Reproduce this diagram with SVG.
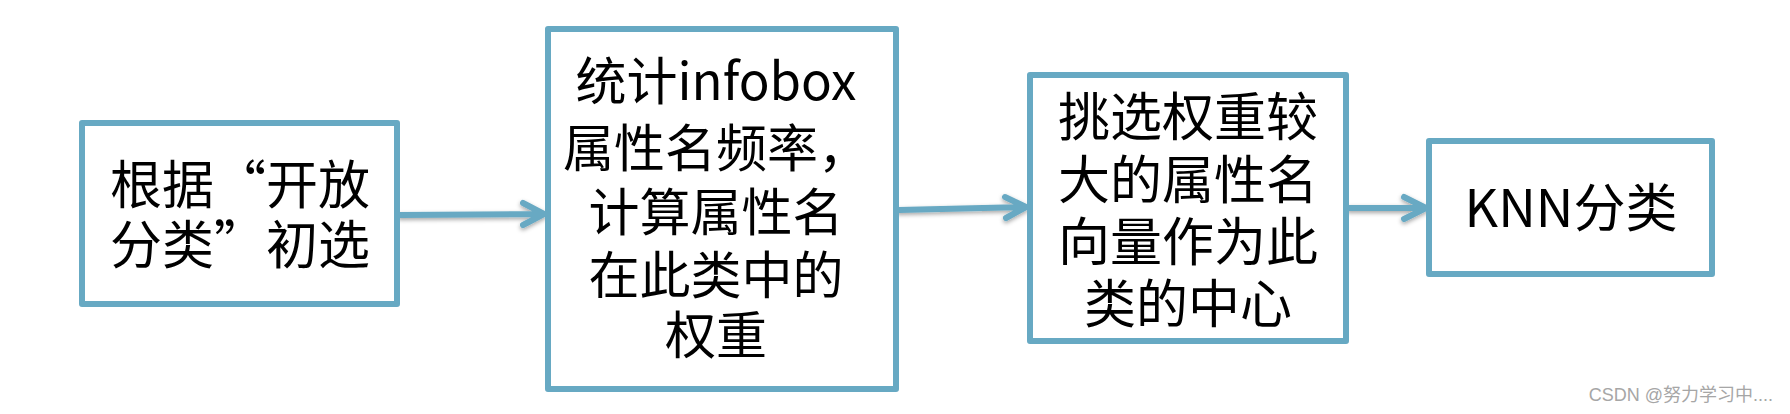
<svg xmlns="http://www.w3.org/2000/svg" width="1790" height="414" viewBox="0 0 1790 414">
<defs>
<style>
.box{fill:#ffffff;stroke:#67A9C3;stroke-width:6;stroke-linejoin:round}
.conn{fill:none;stroke:#67A9C3;stroke-width:6;stroke-linecap:round;stroke-linejoin:round}
.t{font-family:"Noto Sans CJK SC","Noto Sans",sans-serif;fill:#000000;text-anchor:middle}
.wm{font-family:"Liberation Sans","Noto Sans CJK SC",sans-serif;fill:#a6a6a6;font-size:18px;text-anchor:end}
</style>
<filter id="sh" x="-10%" y="-50%" width="120%" height="200%">
<feDropShadow dx="0" dy="2" stdDeviation="2" flood-color="#000000" flood-opacity="0.35"/>
</filter>
</defs>
<rect width="1790" height="414" fill="#ffffff"/>
<g id="connectors" filter="url(#sh)">
<path class="conn" d="M400,215 L543,214 M523,203 L544,214 L523,225"/>
<path class="conn" d="M899,210 L1025,207 M1005,197 L1026,207 L1006,218"/>
<path class="conn" d="M1349,208 L1425,208 M1404,197 L1426,208 L1404,219"/>
</g>
<g id="node1">
<rect class="box" x="82" y="123" width="315" height="181"/>
<text class="t" font-size="52" x="240" y="204">根据“开放</text>
<text class="t" font-size="52" x="240" y="264">分类”初选</text>
</g>
<g id="node2">
<rect class="box" x="548" y="29" width="348" height="360"/>
<text class="t" font-size="51" x="716" y="100">统计infobox</text>
<text class="t" font-size="51" x="716" y="167">属性名频率，</text>
<text class="t" font-size="51" x="716" y="231">计算属性名</text>
<text class="t" font-size="51" x="716" y="294">在此类中的</text>
<text class="t" font-size="51" x="716" y="354">权重</text>
</g>
<g id="node3">
<rect class="box" x="1030" y="75" width="316" height="266"/>
<text class="t" font-size="52" x="1188" y="136">挑选权重较</text>
<text class="t" font-size="52" x="1188" y="199">大的属性名</text>
<text class="t" font-size="52" x="1188" y="261">向量作为此</text>
<text class="t" font-size="52" x="1188" y="323">类的中心</text>
</g>
<g id="node4">
<rect class="box" x="1429" y="141" width="283" height="133"/>
<text class="t" font-size="52" x="1571" y="227">KNN分类</text>
</g>
<text class="wm" x="1773" y="401">CSDN @努力学习中....</text>
</svg>
